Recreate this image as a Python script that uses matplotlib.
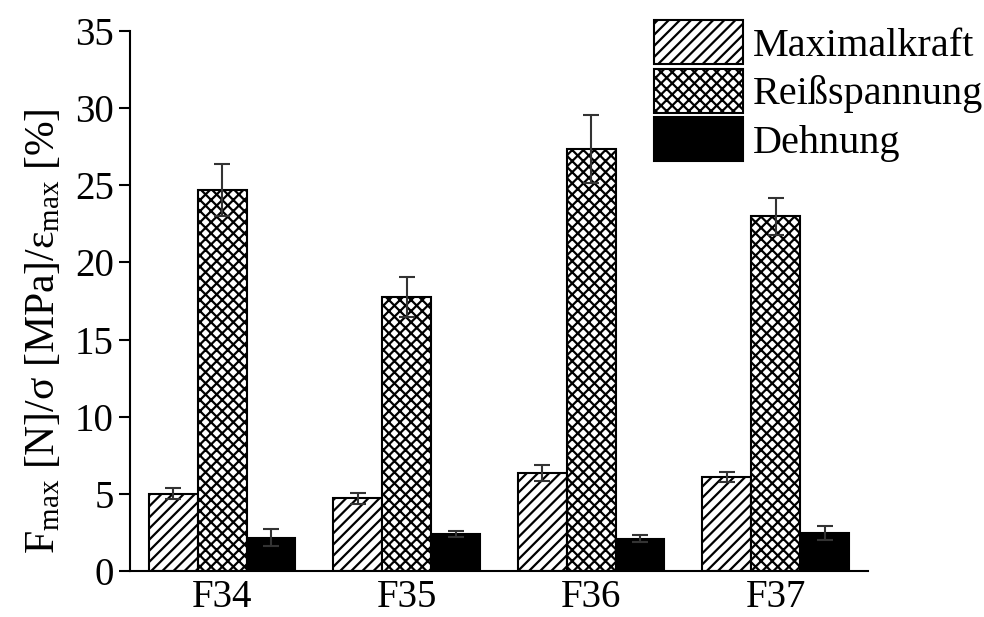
import matplotlib

matplotlib.use("Agg")
import matplotlib.pyplot as plt
import numpy as np

samples = ["F34", "F35", "F36", "F37"]
series = ["Maximalkraft", "Reißspannung", "Dehnung"]

maximalkraft = [5.0, 4.7, 6.35, 6.1]
maximalkraft_err = [0.35, 0.35, 0.5, 0.3]
reissspannung = [24.7, 17.75, 27.35, 23.0]
reissspannung_err = [1.7, 1.3, 2.2, 1.2]
dehnung = [2.15, 2.4, 2.1, 2.45]
dehnung_err = [0.55, 0.2, 0.2, 0.45]

y_ticks = [0, 5, 10, 15, 20, 25, 30, 35]

plt.rcParams["font.family"] = ["Liberation Serif", "DejaVu Serif"]
plt.rcParams["mathtext.fontset"] = "custom"
plt.rcParams["mathtext.rm"] = "Liberation Serif"
plt.rcParams["mathtext.it"] = "Liberation Serif:italic"
plt.rcParams["hatch.linewidth"] = 1.6

fig = plt.figure(figsize=(9.84, 6.17), dpi=100)
ax = fig.add_axes([0.132, 0.0746, 0.75, 0.875])

x = np.arange(len(samples))
w = 0.265
styles = [
    dict(facecolor="white", hatch="///"),
    dict(facecolor="white", hatch="xxx"),
    dict(facecolor="black", hatch=None),
]
values = [maximalkraft, reissspannung, dehnung]
errors = [maximalkraft_err, reissspannung_err, dehnung_err]

for i, (name, vals, errs, st) in enumerate(zip(series, values, errors, styles)):
    ax.bar(x + (i - 1) * w, vals, w, label=name, edgecolor="black",
           linewidth=1.5, **st)
    ax.errorbar(x + (i - 1) * w, vals, yerr=errs, fmt="none", ecolor="#333333",
                elinewidth=1.5, capsize=6, capthick=1.5)

ax.set_xlim(-0.5, 3.5)
ax.set_ylim(0, 35)
ax.set_yticks(y_ticks)
ax.set_xticks(x)
ax.set_xticklabels(samples)
ax.tick_params(axis="both", labelsize=28, width=1.5, direction="out")
ax.tick_params(axis="y", length=8)
ax.tick_params(axis="x", length=0, pad=6)
for s in ("top", "right"):
    ax.spines[s].set_visible(False)
for s in ("left", "bottom"):
    ax.spines[s].set_linewidth(1.5)

ax.set_ylabel(r"F$_{\mathrm{max}}$ [N]/σ [MPa]/ε$_{\mathrm{max}}$ [%]", fontsize=30)
ax.yaxis.set_label_coords(-0.091, 0.444)

ax.legend(loc="upper right", bbox_to_anchor=(1.178, 1.05), fontsize=29, frameon=False,
          handlelength=2.2, handleheight=1.3, handletextpad=0.25, labelspacing=0.1,
          borderaxespad=0)

fig.savefig("out.png", dpi=100, facecolor="white")
